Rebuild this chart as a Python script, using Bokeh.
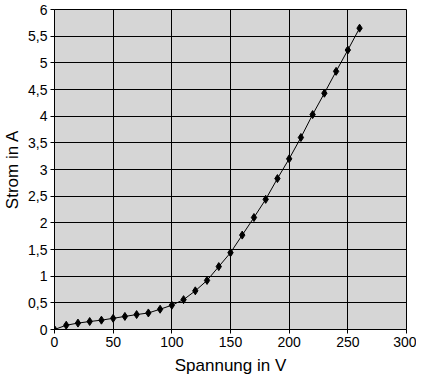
from bokeh.plotting import figure
from bokeh.models import Range1d, SingleIntervalTicker, CustomJSTickFormatter
from bokeh.embed import file_html
from bokeh.resources import INLINE

spannung = [0, 10, 20, 30, 40, 50, 60, 70, 80, 90, 100, 110, 120, 130,
            140, 150, 160, 170, 180, 190, 200, 210, 220, 230, 240, 250, 260]
strom = [0.0, 0.08, 0.12, 0.15, 0.175, 0.21, 0.245, 0.28, 0.31, 0.38, 0.455,
         0.56, 0.725, 0.92, 1.18, 1.44, 1.77, 2.10, 2.44, 2.83, 3.20, 3.60,
         4.03, 4.43, 4.84, 5.24, 5.65]

p = figure(width=416, height=378, output_backend="svg", toolbar_location=None,
           x_range=Range1d(0, 300), y_range=Range1d(0, 6),
           min_border_left=54, min_border_right=10, min_border_top=9, min_border_bottom=49)

p.border_fill_color = "white"
p.background_fill_color = "#d6d6d6"
p.outline_line_color = "black"
p.outline_line_width = 1

p.line(spannung, strom, line_color="black", line_width=1)
p.scatter(spannung, strom, marker="diamond", size=8, fill_color="black", line_color="black")

fmt = CustomJSTickFormatter(code="return tick.toString().replace('.', ',');")

p.xaxis.ticker = SingleIntervalTicker(interval=50)
p.yaxis.ticker = SingleIntervalTicker(interval=0.5)
p.xaxis.formatter = fmt
p.yaxis.formatter = fmt
p.xaxis.axis_label = "Spannung in V"
p.yaxis.axis_label = "Strom in A"

for ax in (p.xaxis, p.yaxis):
    ax.axis_label_text_font = "Liberation Sans"
    ax.axis_label_text_font_style = "normal"
    ax.axis_label_text_font_size = "17px"
    ax.axis_label_text_color = "black"
    ax.major_label_text_font = "Liberation Sans"
    ax.major_label_text_font_size = "14px"
    ax.major_label_text_color = "black"
    ax.axis_line_color = "black"
    ax.major_tick_line_color = "black"
    ax.major_tick_out = 4
    ax.major_tick_in = 0
    ax.minor_tick_line_color = None
    ax.major_label_standoff = 3

p.xaxis.axis_label_standoff = 6
p.yaxis.axis_label_standoff = 3

p.grid.grid_line_color = "black"
p.grid.grid_line_alpha = 1.0
p.grid.grid_line_width = 1

open("out.html", "w").write(file_html(p, INLINE))
